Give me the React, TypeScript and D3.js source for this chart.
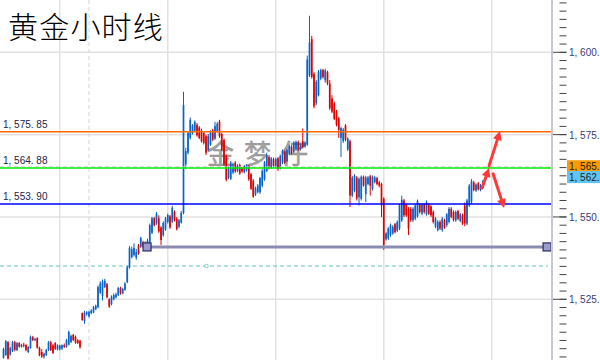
import React from 'react';
import * as d3 from 'd3';

// ---- data (hourly gold candles) ----
const opens = [
  1507.2,1508.1,1512.0,1508.2,1509.3,1512.0,1509.6,1511.7,1510.6,1511.2,
  1511.1,1509.0,1510.2,1513.5,1512.6,1513.2,1510.3,1509.0,1507.6,1508.1,
  1509.6,1512.0,1511.0,1511.7,1509.8,1509.8,1510.0,1511.1,1510.6,1511.2,
  1512.0,1514.2,1513.6,1512.6,1512.4,1520.8,1518.4,1520.5,1519.8,1520.8,
  1521.0,1522.0,1522.6,1527.0,1526.0,1528.7,1529.6,1525.0,1523.5,1525.0,
  1525.6,1526.3,1528.4,1526.8,1527.9,1530.2,1534.6,1537.8,1538.4,1537.6,
  1541.3,1541.0,1542.3,1541.0,1541.6,1541.5,1545.2,1549.6,1548.0,1549.6,
  1546.8,1544.5,1546.2,1548.5,1550.2,1548.5,1551.5,1549.5,1547.0,1548.3,
  1551.2,1566.0,1569.5,1574.0,1575.5,1576.2,1578.0,1577.2,1576.2,1575.5,
  1574.5,1570.2,1572.0,1576.4,1573.8,1576.0,1579.0,1575.2,1573.4,1568.5,
  1562.0,1561.6,1563.5,1566.5,1564.0,1565.8,1564.8,1563.6,1564.2,1565.4,
  1563.0,1561.0,1556.8,1557.5,1557.5,1559.5,1561.5,1564.0,1568.2,1565.0,
  1567.5,1565.2,1567.8,1564.8,1566.5,1569.8,1567.0,1569.2,1571.4,1569.8,
  1570.5,1572.8,1570.6,1573.0,1571.4,1572.0,1593.0,1604.0,1593.5,1584.5,
  1587.0,1592.0,1594.6,1591.5,1594.0,1590.5,1586.0,1584.5,1582.0,1580.0,
  1574.0,1573.0,1577.8,1570.5,1573.0,1556.5,1558.0,1562.0,1556.0,1555.5,
  1562.2,1557.0,1560.0,1562.4,1558.5,1560.6,1561.8,1560.5,1560.0,1555.5,
  1543.2,1543.5,1544.5,1545.0,1547.8,1545.8,1546.5,1549.0,1555.0,1553.8,
  1552.5,1552.5,1549.0,1549.5,1550.2,1553.8,1551.0,1553.9,1550.8,1553.8,
  1553.2,1551.5,1547.0,1546.0,1548.5,1546.0,1549.0,1547.5,1548.5,1552.5,
  1551.5,1549.0,1551.8,1548.8,1550.5,1553.5,1548.0,1553.5,1554.5,1560.5,
  1558.0,1560.2,1558.2,1559.0,
];
const highs = [
  1510.3,1512.6,1512.3,1510.6,1512.4,1512.4,1512.0,1512.0,1511.5,1511.8,
  1511.4,1510.8,1514.0,1513.9,1513.3,1513.5,1510.6,1509.9,1508.8,1510.0,
  1512.3,1512.4,1511.5,1512.0,1511.3,1511.2,1511.3,1511.6,1513.0,1515.5,
  1514.3,1514.5,1514.0,1512.9,1512.7,1521.0,1521.5,1521.4,1521.5,1522.0,
  1523.0,1523.4,1529.2,1530.5,1531.0,1531.2,1530.0,1525.3,1526.2,1526.8,
  1527.0,1528.8,1528.8,1528.5,1530.2,1535.2,1541.2,1541.0,1542.0,1540.3,
  1541.8,1544.0,1542.8,1542.6,1543.4,1548.0,1550.0,1550.0,1551.5,1550.5,
  1547.2,1548.7,1550.0,1551.0,1550.6,1553.4,1552.0,1550.0,1549.4,1551.8,
  1588.0,1571.0,1576.0,1580.2,1578.2,1579.3,1578.5,1577.6,1576.8,1576.0,
  1575.0,1575.2,1576.3,1576.8,1578.9,1578.8,1579.5,1575.6,1573.8,1569.0,
  1565.3,1567.0,1566.5,1567.0,1566.0,1566.2,1565.2,1565.8,1566.0,1565.8,
  1563.4,1561.5,1559.2,1560.0,1562.2,1564.5,1567.0,1569.5,1568.8,1568.2,
  1568.0,1568.0,1568.2,1569.0,1570.5,1570.2,1570.8,1572.0,1571.8,1573.0,
  1573.2,1573.2,1572.4,1576.9,1573.0,1599.0,1611.1,1605.0,1594.0,1591.6,
  1594.6,1595.0,1595.0,1595.0,1594.4,1591.6,1587.0,1585.0,1582.5,1580.4,
  1577.4,1577.0,1578.2,1574.2,1573.5,1562.5,1563.0,1562.4,1562.0,1562.6,
  1562.6,1562.5,1562.4,1562.8,1562.6,1562.5,1562.2,1561.0,1560.4,1556.0,
  1545.4,1547.0,1548.0,1547.5,1548.2,1549.0,1554.0,1556.5,1555.5,1554.2,
  1553.0,1553.0,1553.0,1554.0,1555.3,1554.2,1554.2,1554.2,1555.0,1554.2,
  1553.6,1552.0,1550.0,1549.0,1549.0,1550.0,1549.5,1551.2,1553.0,1553.0,
  1552.0,1552.0,1552.2,1551.2,1551.0,1554.4,1555.5,1560.0,1561.5,1561.0,
  1560.2,1560.6,1560.0,1561.2,
];
const lows = [
  1507.0,1507.8,1506.7,1507.9,1509.0,1509.2,1509.3,1510.3,1510.3,1510.4,
  1509.2,1508.7,1510.0,1512.3,1512.3,1510.0,1507.7,1507.2,1507.0,1507.8,
  1509.3,1509.3,1508.4,1509.6,1509.5,1509.5,1509.6,1510.2,1510.3,1511.0,
  1511.7,1512.3,1511.5,1511.4,1510.0,1518.5,1517.6,1520.0,1519.5,1520.5,
  1520.8,1521.7,1522.3,1526.6,1524.6,1528.4,1525.3,1522.4,1523.2,1524.7,
  1525.3,1526.0,1526.4,1526.5,1527.6,1529.9,1534.3,1537.4,1538.0,1537.0,
  1538.5,1540.6,1540.6,1540.4,1541.0,1541.0,1544.8,1547.1,1547.6,1545.2,
  1541.5,1544.0,1545.8,1548.0,1546.4,1548.2,1548.6,1545.9,1546.6,1548.0,
  1550.8,1564.5,1569.0,1573.5,1575.0,1575.8,1574.4,1573.6,1572.6,1572.0,
  1568.8,1569.8,1571.6,1573.0,1573.4,1575.6,1574.0,1570.0,1565.5,1560.8,
  1561.5,1561.2,1563.0,1563.4,1563.6,1562.8,1563.4,1563.2,1563.8,1561.0,
  1558.2,1555.8,1556.4,1557.2,1557.0,1559.0,1561.0,1563.6,1564.4,1564.6,
  1565.0,1564.8,1564.0,1564.4,1566.0,1566.0,1566.6,1568.8,1569.0,1569.4,
  1570.0,1570.0,1570.2,1570.8,1571.0,1571.6,1592.5,1592.0,1583.0,1584.0,
  1586.6,1591.5,1592.0,1590.8,1590.0,1582.5,1581.5,1579.4,1577.5,1574.0,
  1568.2,1572.5,1573.0,1570.0,1553.0,1556.0,1557.5,1555.0,1553.5,1555.0,
  1559.2,1554.5,1559.6,1556.5,1558.0,1560.2,1559.6,1559.0,1550.0,1540.0,
  1542.8,1543.0,1544.0,1544.6,1545.0,1545.4,1546.0,1548.5,1550.0,1550.0,
  1544.5,1548.5,1548.5,1549.0,1549.8,1551.0,1550.5,1551.0,1550.4,1550.6,
  1550.0,1548.0,1546.6,1545.6,1546.0,1545.5,1546.4,1547.0,1548.0,1549.6,
  1548.6,1548.5,1549.0,1548.4,1547.6,1547.2,1547.5,1553.0,1554.0,1557.8,
  1557.6,1558.0,1557.8,1558.6,
];
const closes = [
  1509.9,1512.3,1507.0,1510.3,1512.0,1509.6,1511.7,1510.6,1511.2,1511.0,
  1509.6,1510.5,1513.6,1512.6,1513.0,1510.3,1508.0,1507.6,1508.5,1509.6,
  1512.0,1509.6,1508.7,1510.0,1511.0,1511.0,1511.1,1510.6,1512.6,1515.1,
  1513.9,1512.6,1511.8,1511.7,1510.5,1518.7,1521.0,1521.0,1521.2,1521.6,
  1522.6,1523.0,1528.7,1529.8,1530.3,1530.6,1525.6,1522.8,1525.8,1526.3,
  1526.5,1528.4,1526.8,1528.1,1529.8,1534.7,1540.6,1540.2,1540.6,1539.4,
  1538.9,1543.6,1541.0,1542.2,1542.8,1547.5,1549.6,1547.5,1551.0,1545.6,
  1543.0,1548.2,1549.6,1550.6,1546.8,1552.8,1549.0,1546.3,1549.0,1551.2,
  1584.0,1570.0,1575.5,1579.5,1577.8,1578.9,1574.8,1574.0,1573.0,1572.5,
  1569.5,1574.6,1575.8,1573.5,1577.6,1578.3,1574.5,1570.5,1566.0,1561.3,
  1564.8,1566.5,1566.0,1563.8,1565.5,1563.2,1563.8,1565.4,1565.6,1561.4,
  1558.6,1556.2,1558.8,1559.5,1561.8,1564.0,1566.5,1568.8,1564.8,1567.8,
  1565.5,1567.6,1564.5,1568.5,1570.0,1566.5,1570.2,1571.5,1569.5,1572.6,
  1572.8,1570.5,1572.0,1571.2,1572.6,1597.8,1603.0,1592.5,1583.6,1591.0,
  1594.0,1594.6,1592.5,1594.5,1590.5,1583.0,1582.0,1579.8,1578.0,1576.4,
  1577.0,1576.5,1573.5,1573.8,1556.5,1562.0,1562.5,1555.6,1561.6,1562.2,
  1559.6,1562.0,1562.0,1559.5,1562.2,1562.0,1560.0,1559.5,1553.5,1541.5,
  1545.0,1546.5,1547.5,1547.0,1545.4,1548.5,1553.6,1555.2,1550.5,1550.5,
  1546.5,1549.0,1552.5,1553.5,1554.8,1551.5,1553.8,1551.5,1554.5,1551.0,
  1550.5,1548.5,1549.5,1548.5,1546.5,1549.5,1546.8,1550.8,1552.5,1550.0,
  1549.0,1551.5,1549.5,1550.8,1548.0,1548.0,1555.0,1559.5,1560.8,1558.2,
  1559.8,1558.4,1559.6,1560.8,
];

const axisTicks = [1525, 1550, 1575, 1600];
const levelPrices = [1575.85, 1564.88, 1553.9];
const vGridBars = [25, 73, 121, 169, 217];
const separatorBar = 38;
const bidLevel = 1565.2;
const trendPrice = 1540.9;
const trendBars = [63.8, 241.6];
const dashedLevel = 1535.1;
const markerBar = 90.2;
const tagPrices = [1565.4, 1562.1];
// arrows: [bar, price] of start and end
const arrowStarts = [[212.7, 1558.8], [215.8, 1565.5], [217.6, 1563.1]];
const arrowEnds = [[215.8, 1564.9], [220.7, 1576.1], [222.5, 1552.7]];
const titleText = '黄金小时线';
const watermarkText = '金梦仔';

const W = 600;
const H = 360;
const AXIS_X = 552;

const x = d3.scaleLinear().domain([0, 1]).range([3.5, 5.75]);
const y = d3.scaleLinear().domain([1525, 1600]).range([299.3, 52.3]);

const fmt = (v: number) => d3.format(',.2f')(v).replace(',', ', ').replace('.', '. ');
// right-axis labels: the reference only shows the part up to the decimal point
const fmtAxis = (v: number) => d3.format(',d')(Math.floor(v)).replace(',', ', ') + '.';

const levelColors = ['#ff6a00', '#00ee00', '#0000ff'];
const tagColors = ['#ff9a00', '#5fc6f4'];
const UP = '#0a64c8';
const DOWN = '#e00000';

function Arrow({ x1, y1, x2, y2 }: { x1: number; y1: number; x2: number; y2: number }) {
  const ang = Math.atan2(y2 - y1, x2 - x1);
  const hl = 9;
  const hw = 4.5;
  const bx = x2 - hl * Math.cos(ang);
  const by = y2 - hl * Math.sin(ang);
  const px = -Math.sin(ang) * hw;
  const py = Math.cos(ang) * hw;
  return (
    <g>
      <line x1={x1} y1={y1} x2={bx} y2={by} stroke="#ff3838" strokeWidth={3} strokeLinecap="round" />
      <polygon points={`${x2},${y2} ${bx + px},${by + py} ${bx - px},${by - py}`} fill="#ff3838" />
    </g>
  );
}

export default function App() {
  const minorTicks = d3.range(1507.5, 1616, 2.5);
  return (
    <svg width={W} height={H} style={{ position: 'absolute', left: 0, top: 0, background: '#fff' }}
      fontFamily="'Liberation Sans', Arial, sans-serif">
      <rect x={0} y={0} width={W} height={H} fill="#ffffff" />
      <defs>
        <clipPath id="plot"><rect x={0} y={0} width={AXIS_X} height={H} /></clipPath>
      </defs>
      <g clipPath="url(#plot)">
        {axisTicks.map((t) => (
          <line key={t} x1={0} x2={AXIS_X} y1={y(t)} y2={y(t)} stroke="#e2e2e2" strokeWidth={1.5} />
        ))}
        {vGridBars.map((b) => (
          <line key={b} x1={x(b)} x2={x(b)} y1={0} y2={H} stroke="#e2e2e2" strokeWidth={1.5} />
        ))}
        <line x1={x(separatorBar)} x2={x(separatorBar)} y1={0} y2={H} stroke="#d6d6d6" strokeWidth={1} strokeDasharray="4,3" />
        <text x={207} y={164} fontSize={27} fill="#a3a3a3" stroke="#8a8a8a" strokeWidth={0.4}
          fontFamily="'Noto Sans CJK SC', sans-serif" letterSpacing={10}>{watermarkText}</text>
        <line x1={0} x2={548} y1={y(dashedLevel)} y2={y(dashedLevel)} stroke="#62c4c4" strokeWidth={1} strokeDasharray="4,3" />
        <circle cx={x(markerBar)} cy={y(dashedLevel)} r={1.8} fill="#fff" stroke="#62c4c4" strokeWidth={0.8} />
        {opens.map((o, i) => {
          const c = closes[i];
          const col = c >= o ? UP : DOWN;
          const xc = x(i);
          const top = y(Math.max(o, c));
          const h = Math.max(1, Math.abs(y(o) - y(c)));
          return (
            <g key={i}>
              <line x1={xc} x2={xc} y1={y(highs[i])} y2={y(lows[i])} stroke={col} strokeWidth={1} />
              <rect x={xc - 0.85} width={1.7} y={top} height={h} fill={col} />
            </g>
          );
        })}
        <line x1={0} x2={AXIS_X} y1={y(bidLevel)} y2={y(bidLevel)} stroke="#c8c8c8" strokeWidth={1} strokeDasharray="4,3" />
        {levelPrices.map((p, k) => (
          <line key={p} x1={0} x2={AXIS_X} y1={y(p)} y2={y(p)} stroke={levelColors[k]} strokeWidth={1.5} />
        ))}
        <line x1={x(trendBars[0])} x2={x(trendBars[1])} y1={y(trendPrice)} y2={y(trendPrice)} stroke="#8a8cb2" strokeWidth={3} />
        {trendBars.map((b) => (
          <rect key={b} x={x(b) - 4} y={y(trendPrice) - 4} width={8} height={8} fill="#9a9cce" stroke="#35356a" strokeWidth={1.3} />
        ))}
        {arrowStarts.map((s, k) => (
          <Arrow key={k} x1={x(s[0])} y1={y(s[1])} x2={x(arrowEnds[k][0])} y2={y(arrowEnds[k][1])} />
        ))}
      </g>
      {levelPrices.map((p) => (
        <text key={p} x={3} y={y(p) - 4} fontSize={10} fill="#22244a">{fmt(p)}</text>
      ))}
      {/* right axis */}
      <line x1={AXIS_X} x2={AXIS_X} y1={0} y2={H} stroke="#c4c8d4" strokeWidth={2} />
      {minorTicks.map((t) => (
        <line key={t} x1={559.5} x2={566.5} y1={y(t)} y2={y(t)} stroke="#444" strokeWidth={1} />
      ))}
      {axisTicks.map((t) => (
        <g key={t}>
          <line x1={553} x2={566.5} y1={y(t)} y2={y(t)} stroke="#444" strokeWidth={1} />
          <text x={569} y={y(t) + 4} fontSize={10} fill="#3a3a7a">{fmtAxis(t)}</text>
        </g>
      ))}
      {tagPrices.map((p, k) => (
        <g key={p}>
          <rect x={567} y={y(p) - 6} width={33} height={12} fill={tagColors[k]} />
          <text x={569} y={y(p) + 4} fontSize={10} fill="#222">{fmtAxis(p)}</text>
        </g>
      ))}
      <text x={8} y={38} fontSize={30} fill="#000" letterSpacing={1.2}
        fontFamily="'Noto Sans CJK SC', sans-serif" fontWeight={300}>{titleText}</text>
    </svg>
  );
}
